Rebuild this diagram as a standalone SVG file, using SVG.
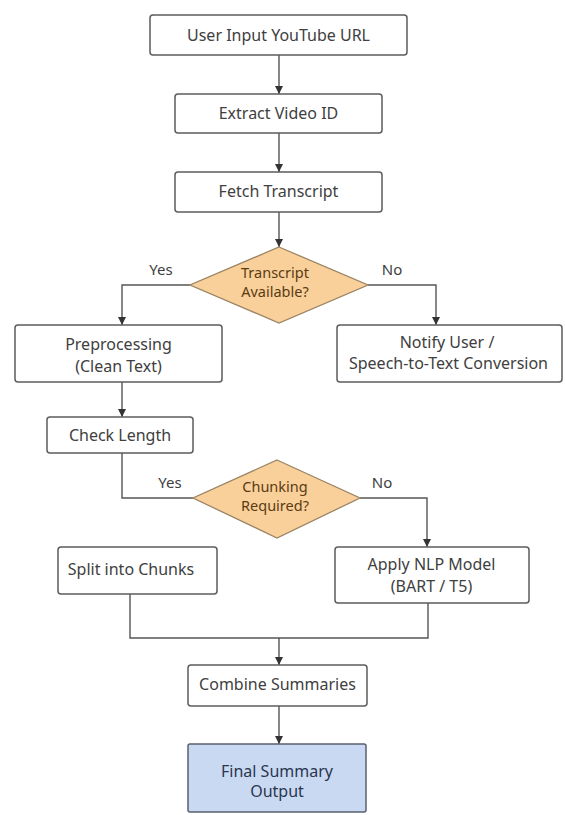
<svg xmlns="http://www.w3.org/2000/svg" width="565" height="815" viewBox="0 0 565 815">
<defs>
<style>
.box{fill:#ffffff;stroke:#5c5c5c;stroke-width:1.5}
.dia{fill:#f9cf9a;stroke:#9a8464;stroke-width:1.3}
.fin{fill:#c9d9f1;stroke:#5a6070;stroke-width:1.5}
.t{font-family:"Noto Sans","Open Sans",sans-serif;font-size:16px;fill:#404040;text-anchor:middle}
.tl{font-family:"Noto Sans","Open Sans",sans-serif;font-size:15px;fill:#404040;text-anchor:middle}
.td{font-family:"Noto Sans","Open Sans",sans-serif;font-size:14.5px;fill:#5a3c14;text-anchor:middle}
.tf{font-family:"Noto Sans","Open Sans",sans-serif;font-size:16px;fill:#2a3550;text-anchor:middle}
.c{fill:none;stroke:#555555;stroke-width:1.4}
</style>
<marker id="ah" viewBox="0 0 10 10" refX="10" refY="5" markerWidth="8" markerHeight="8" markerUnits="userSpaceOnUse" orient="auto">
<path d="M0,0 L10,5 L0,10 z" fill="#333333"/>
</marker>
</defs>
<rect width="565" height="815" fill="#ffffff"/>
<g id="connectors">
<path class="c" d="M279,55 V94" marker-end="url(#ah)"/>
<path class="c" d="M279,133 V172" marker-end="url(#ah)"/>
<path class="c" d="M279,212 V247" marker-end="url(#ah)"/>
<path class="c" d="M190,285 H122 V325" marker-end="url(#ah)"/>
<path class="c" d="M368,285 H436 V325" marker-end="url(#ah)"/>
<path class="c" d="M122,382 V417" marker-end="url(#ah)"/>
<path class="c" d="M122,453 V498 H193"/>
<path class="c" d="M360,498 H427 V547" marker-end="url(#ah)"/>
<path class="c" d="M130,594 V638 H428 V603"/>
<path class="c" d="M279,638 V665" marker-end="url(#ah)"/>
<path class="c" d="M279,706 V744" marker-end="url(#ah)"/>
<text class="tl" x="161" y="275">Yes</text>
<text class="tl" x="392" y="275">No</text>
<text class="tl" x="170" y="488">Yes</text>
<text class="tl" x="382" y="488">No</text>
</g>
<g id="n1"><rect class="box" x="150" y="15" width="257" height="40" rx="3"/><text class="t" x="278.5" y="41">User Input YouTube URL</text></g>
<g id="n2"><rect class="box" x="175" y="94" width="207" height="39" rx="3"/><text class="t" x="278.5" y="119">Extract Video ID</text></g>
<g id="n3"><rect class="box" x="175" y="172" width="207" height="40" rx="3"/><text class="t" x="278.5" y="197">Fetch Transcript</text></g>
<g id="d1"><polygon class="dia" points="279,247 368,285 279,323 190,285"/><text class="td" x="275" y="278">Transcript</text><text class="td" x="275" y="297">Available?</text></g>
<g id="n4"><rect class="box" x="15" y="325" width="207" height="57" rx="3"/><text class="t" x="118.5" y="350">Preprocessing</text><text class="t" x="118.5" y="372">(Clean Text)</text></g>
<g id="n5"><rect class="box" x="337" y="325" width="225" height="57" rx="3"/><text class="t" x="447" y="348">Notify User /</text><text class="t" x="448.5" y="369">Speech-to-Text Conversion</text></g>
<g id="n6"><rect class="box" x="47" y="417" width="146" height="36" rx="3"/><text class="t" x="120" y="441">Check Length</text></g>
<g id="d2"><polygon class="dia" points="277,460 360,498 277,538 193,498"/><text class="td" x="275" y="492">Chunking</text><text class="td" x="275" y="511">Required?</text></g>
<g id="n7"><rect class="box" x="58" y="547" width="159" height="47" rx="3"/><text class="t" x="131" y="575">Split into Chunks</text></g>
<g id="n8"><rect class="box" x="335" y="547" width="194" height="56" rx="3"/><text class="t" x="431.5" y="570">Apply NLP Model</text><text class="t" x="431.5" y="592">(BART / T5)</text></g>
<g id="n9"><rect class="box" x="188" y="665" width="179" height="41" rx="3"/><text class="t" x="277.5" y="690">Combine Summaries</text></g>
<g id="n10"><rect class="fin" x="188" y="744" width="178" height="68" rx="2"/><text class="tf" x="277" y="777">Final Summary</text><text class="tf" x="277" y="797">Output</text></g>
</svg>
